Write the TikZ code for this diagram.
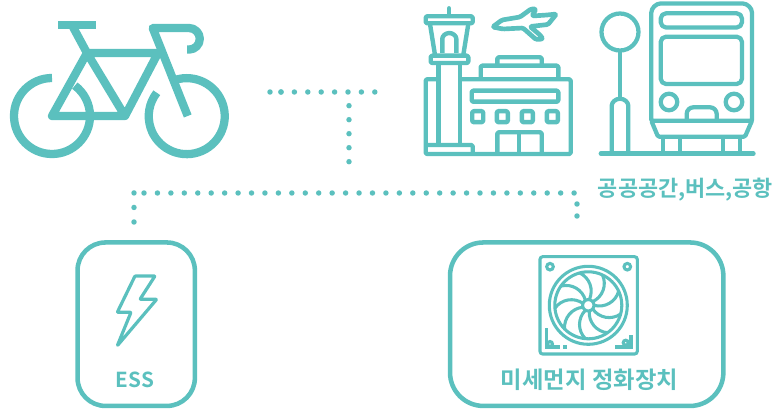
\documentclass[tikz,border=0pt]{standalone}
\usepackage{fontspec}
\setmainfont{Noto Sans CJK KR}[BoldFont={Noto Sans CJK KR Bold}]
\usepackage{tikz}
\usetikzlibrary{calc}
\definecolor{mTeal}{HTML}{5BC0BE}
\tikzset{
  bikeline/.style={draw=mTeal,line width=6.2pt},
  iconline/.style={draw=mTeal,line width=3.3pt,line join=round,rounded corners=1pt},
  fanline/.style={draw=mTeal,line width=2.3pt},
  dotline/.style={draw=mTeal,line width=4.1pt,line cap=round,dash pattern=on 0pt off #1},
  cardbox/.style={draw=mTeal,line width=3.4pt,rectangle,inner sep=0pt},
  cardlabel/.style={text=mTeal,font=\bfseries\fontsize{15.5pt}{18pt}\selectfont,inner sep=0pt}
}
\begin{document}
\begin{tikzpicture}[x=0.75pt,y=-0.75pt]
  \useasboundingbox (0,0) rectangle (779,410);

  % Bicycle
  \draw[bikeline] (52,78) arc[start angle=-90, end angle=-413, radius=38];
  \draw[bikeline] (175,80) arc[start angle=-108, end angle=218, radius=38];
  \draw[bikeline] (58,24.7) -- (96,24.7);
  \draw[bikeline,line join=round] (73,27) -- (87,53) -- (52,116) -- (125,116) -- (158,53) -- (87,53) -- (125,116);
  \draw[bikeline,line join=round] (187.7,116) -- (152.7,28) -- (189,28)
        arc[start angle=-90, end angle=90, radius=10.8] -- (187,49.6);

  % Airport
  \draw[iconline] (425.7,16.3) rectangle (472.7,23.3);
  \draw[iconline,line cap=round] (449,8.3) -- (449,14);
  \draw[iconline] (430,24) -- (435,55);
  \draw[iconline] (468.3,24) -- (463.3,55);
  \draw[iconline] (442.3,53) -- (442.3,40) arc[start angle=180, end angle=360, radius=7] -- (456.3,53);
  \draw[iconline] (430.7,55.7) rectangle (468.3,63);
  \draw[iconline] (438.3,63) -- (438.3,145);
  \draw[iconline] (460,63) -- (460,145);
  \draw[iconline] (438.3,79.3) -- (425.7,79.3) -- (425.7,154) -- (570.7,154) -- (570.7,79.3) -- (460,79.3);
  \draw[iconline] (425.7,145) -- (472.7,145) -- (472.7,154);
  \draw[iconline] (480.7,79) -- (480.7,65.7) -- (558.3,65.7) -- (558.3,79);
  \draw[iconline] (497.3,65.7) -- (497.3,57.3) -- (541.7,57.3) -- (541.7,65.7);
  \draw[iconline] (471.7,90.7) rectangle (558.3,101.7);
  \foreach \wx in {477.7,502.3,527.3,552.3}
    \draw[iconline] (\wx-5.5,111.2) rectangle (\wx+5.5,122.2);
  \draw[iconline] (497.3,154) -- (497.3,132.3) -- (541.7,132.3) -- (541.7,154);
  \draw[iconline] (519,132.3) -- (519,154);
  \draw[iconline,line width=3.5pt,fill=white] (492.5,27) -- (502,20) -- (520,17) -- (531,9) -- (536,9) -- (532,16)
        -- (547,15) -- (556.5,14) -- (548,24.5) -- (530,26.5) -- (540,35) -- (543,39) -- (536,39.5) -- (523,28) -- (503,29) -- cycle;

  % Bus stop
  \draw[iconline,line width=3.2pt] (651.3,120.7) -- (651.3,14) arc[start angle=180, end angle=270, radius=10.5] -- (741.5,3.5)
        arc[start angle=270, end angle=360, radius=10.5] -- (752,120.7) -- (745,136.7) -- (658,136.7) -- (651.3,120.7) -- (752,120.7);
  \draw[iconline,line width=3.2pt,rounded corners=4pt] (660.7,13.3) rectangle (742,27.5);
  \draw[iconline,line width=3.2pt,rounded corners=4pt] (660.7,36.7) rectangle (742,84);
  \draw[iconline,line width=3.2pt] (669,102) circle (8.3);
  \draw[iconline,line width=3.2pt] (734,102) circle (8.3);
  \draw[iconline,line width=3.2pt,rounded corners=5pt] (686.7,120) -- (686.7,107.3) -- (716.7,107.3) -- (716.7,120);
  \draw[iconline,line width=3.2pt] (663.3,136.7) -- (663.3,153);
  \draw[iconline,line width=3.2pt] (680,136.7) -- (680,153);
  \draw[iconline,line width=3.2pt] (723,136.7) -- (723,153);
  \draw[iconline,line width=3.2pt] (740,136.7) -- (740,153);
  \draw[iconline,line cap=round,line width=3.6pt] (601,153.7) -- (753.3,153.7);
  \draw[iconline,line width=3.2pt] (620,32) circle (18.5);
  \draw[iconline,line width=3.2pt] (620,52) -- (620,98);
  \draw[iconline,line width=3.2pt] (611.7,153) -- (611.7,107) arc[start angle=180, end angle=360, radius=8.3] -- (628.3,153);

  \node[cardlabel,font=\bfseries\fontsize{16.4pt}{18pt}\selectfont] (publicLabel) at (685.5,190) {공공공간,버스,공항};

  % Cards
  \node[cardbox,rounded corners=21pt,minimum width=88pt,minimum height=122.6pt] (ess) at (136.2,324.2) {};
  \node[cardbox,rounded corners=25pt,minimum width=205pt,minimum height=122.6pt] (filter) at (586.7,324.2) {};
  \node[cardlabel] (essLabel) at (135,380) {ESS};
  \node[cardlabel,font=\bfseries\fontsize{17.5pt}{18pt}\selectfont] (filterLabel) at (589.5,380) {미세먼지 정화장치};

  % Bolt
  \draw[iconline,line width=2.4pt,rounded corners=0.5pt] (135,276) -- (155,276) -- (140,299.3) -- (156.7,299.3)
        -- (117.3,345.7) -- (131,312.3) -- (117.3,312.3) -- cycle;

  % Fan
  \coordinate (fanHub) at (588.3,305.3);
  \draw[fanline,rounded corners=2pt] (540,256.7) rectangle (637.3,354);
  \draw[fanline] (fanHub) circle (39);
  \draw[fanline] (fanHub) circle (33.5);
  \draw[fanline] (fanHub) circle (5.7);
  \foreach \ang in {0,40,...,320}
    \draw[fanline] ($(fanHub)+(\ang:5.7)$) to[bend right=45] ($(fanHub)+(\ang-25:33.5)$);
  \draw[fanline] (550,266.7) circle (3.3);
  \draw[fanline] (627.3,266.7) circle (3.3);
  \draw[fanline] (550,344) circle (2.5);
  \draw[fanline] (625.7,342.7) circle (2.5);
  \draw[fanline] (546.7,328) -- (546.7,347) -- (560,347);
  \draw[fanline] (563,347) -- (567,347);
  \draw[fanline] (631,335) -- (631,347) -- (615,347);

  % Dotted connectors
  \coordinate (topA) at (270,92);
  \coordinate (topB) at (281,92);
  \coordinate (topC) at (375,92);
  \coordinate (dropA) at (349,105.7);
  \coordinate (dropB) at (349,163);
  \coordinate (trunkA) at (144,193);
  \coordinate (trunkB) at (575,193);
  \coordinate (essA) at (134,192);
  \coordinate (essB) at (134,222);
  \coordinate (filterA) at (577,204);
  \coordinate (filterB) at (577,217);
  \draw[dotline=8.25pt] (topA) -- (topB);
  \draw[dotline=10.05pt] (topB) -- (topC);
  \draw[dotline=10.5pt] (dropA) -- (dropB);
  \draw[dotline=10.08pt] (trunkA) -- (trunkB);
  \draw[dotline=10.9pt] (essB) -- (essA);
  \draw[dotline=9pt] (filterA) -- (filterB);
\end{tikzpicture}
\end{document}
